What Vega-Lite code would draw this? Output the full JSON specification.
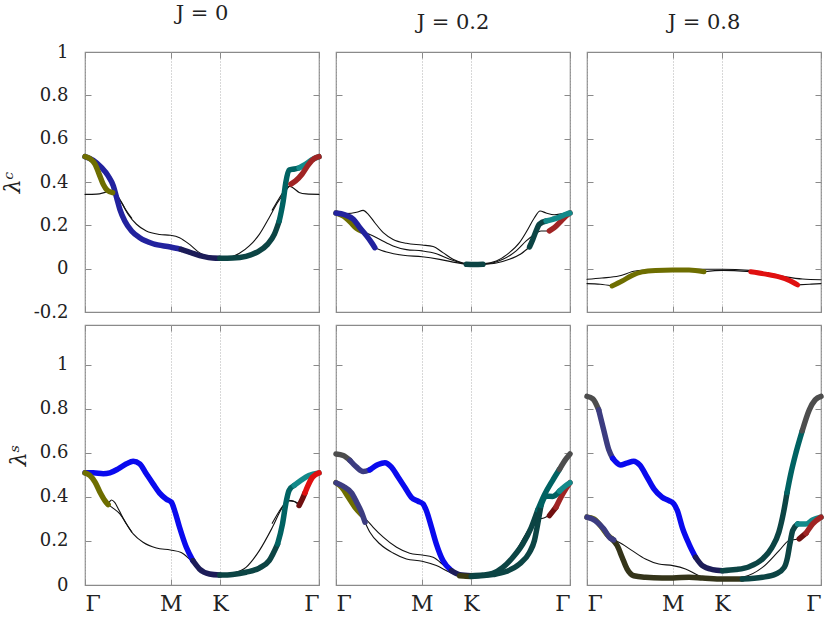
{
"$schema":"https://vega.github.io/schema/vega-lite/v6.json",
"padding":{"left":0,"top":2,"right":2,"bottom":0},
"autosize":{"type":"pad"},
"config":{
 "view":{"stroke":"#8a8a8a","strokeWidth":1.2},
 "axis":{"labelFont":"DejaVu Serif","labelFontSize":18,"labelColor":"#222","tickColor":"#8a8a8a","tickSize":-6,"domain":false,"grid":false,"titleFont":"DejaVu Serif","titleFontSize":22,"titleFontWeight":"normal","titleColor":"#222","titleFontStyle":"italic"},
 "title":{"font":"DejaVu Serif","fontSize":21,"fontWeight":"normal","color":"#222","offset":19,"anchor":"middle"},
 "line":{"interpolate":"monotone","strokeCap":"round","strokeJoin":"round"}
},
"data":{"values":[
{"p":"a","s":"a1a","k":"dblue","x":0,"y":0.517},{"p":"a","s":"a1a","k":"dblue","x":0.035,"y":0.5},{"p":"a","s":"a1a","k":"dblue","x":0.071,"y":0.466},{"p":"a","s":"a1a","k":"dblue","x":0.099,"y":0.428},{"p":"a","s":"a1a","k":"dblue","x":0.121,"y":0.382},{"p":"a","s":"a1a","k":"dblue","x":0.135,"y":0.328},{"p":"a","s":"a1a","k":"dblue","x":0.149,"y":0.274},{"p":"a","s":"a1a","k":"dblue","x":0.17,"y":0.22},{"p":"a","s":"a1a","k":"dblue","x":0.199,"y":0.174},{"p":"a","s":"a1a","k":"dblue","x":0.234,"y":0.143},{"p":"a","s":"a1a","k":"dblue","x":0.291,"y":0.115},{"p":"a","s":"a1a","k":"dblue","x":0.365,"y":0.1},{"p":"a","s":"a1a","k":"dblue","x":0.411,"y":0.089},
{"p":"a","s":"a1b","k":"navy","x":0.411,"y":0.089},{"p":"a","s":"a1b","k":"navy","x":0.461,"y":0.071},{"p":"a","s":"a1b","k":"navy","x":0.504,"y":0.057},{"p":"a","s":"a1b","k":"navy","x":0.546,"y":0.049},{"p":"a","s":"a1b","k":"navy","x":0.576,"y":0.048},
{"p":"a","s":"a1c","k":"dteal","x":0.576,"y":0.048},{"p":"a","s":"a1c","k":"dteal","x":0.631,"y":0.049},{"p":"a","s":"a1c","k":"dteal","x":0.688,"y":0.057},{"p":"a","s":"a1c","k":"dteal","x":0.738,"y":0.078},{"p":"a","s":"a1c","k":"dteal","x":0.78,"y":0.112},{"p":"a","s":"a1c","k":"dteal","x":0.809,"y":0.158},{"p":"a","s":"a1c","k":"dteal","x":0.83,"y":0.22},
{"p":"a","s":"a1d","k":"teal","x":0.83,"y":0.22},{"p":"a","s":"a1d","k":"teal","x":0.847,"y":0.312},{"p":"a","s":"a1d","k":"teal","x":0.858,"y":0.397},{"p":"a","s":"a1d","k":"teal","x":0.872,"y":0.455},{"p":"a","s":"a1d","k":"teal","x":0.895,"y":0.46},{"p":"a","s":"a1d","k":"teal","x":0.915,"y":0.465},
{"p":"a","s":"a1e","k":"lteal","x":0.915,"y":0.465},{"p":"a","s":"a1e","k":"lteal","x":0.94,"y":0.48},{"p":"a","s":"a1e","k":"lteal","x":0.97,"y":0.503},{"p":"a","s":"a1e","k":"lteal","x":1,"y":0.517},
{"p":"a","s":"a2a","k":"olive","x":0,"y":0.517},{"p":"a","s":"a2a","k":"olive","x":0.021,"y":0.508},{"p":"a","s":"a2a","k":"olive","x":0.043,"y":0.482},{"p":"a","s":"a2a","k":"olive","x":0.061,"y":0.435},{"p":"a","s":"a2a","k":"olive","x":0.078,"y":0.389},{"p":"a","s":"a2a","k":"olive","x":0.095,"y":0.362},{"p":"a","s":"a2a","k":"olive","x":0.118,"y":0.351},
{"p":"a","s":"a2b","k":"thin","x":0.118,"y":0.351},{"p":"a","s":"a2b","k":"thin","x":0.135,"y":0.335},{"p":"a","s":"a2b","k":"thin","x":0.156,"y":0.305},{"p":"a","s":"a2b","k":"thin","x":0.184,"y":0.251},{"p":"a","s":"a2b","k":"thin","x":0.22,"y":0.205},{"p":"a","s":"a2b","k":"thin","x":0.262,"y":0.174},{"p":"a","s":"a2b","k":"thin","x":0.319,"y":0.158},{"p":"a","s":"a2b","k":"thin","x":0.365,"y":0.154},{"p":"a","s":"a2b","k":"thin","x":0.404,"y":0.143},{"p":"a","s":"a2b","k":"thin","x":0.447,"y":0.112},{"p":"a","s":"a2b","k":"thin","x":0.489,"y":0.074},{"p":"a","s":"a2b","k":"thin","x":0.532,"y":0.054},{"p":"a","s":"a2b","k":"thin","x":0.576,"y":0.048},{"p":"a","s":"a2b","k":"thin","x":0.617,"y":0.052},{"p":"a","s":"a2b","k":"thin","x":0.66,"y":0.071},{"p":"a","s":"a2b","k":"thin","x":0.702,"y":0.105},{"p":"a","s":"a2b","k":"thin","x":0.745,"y":0.158},{"p":"a","s":"a2b","k":"thin","x":0.787,"y":0.235},{"p":"a","s":"a2b","k":"thin","x":0.823,"y":0.305},{"p":"a","s":"a2b","k":"thin","x":0.848,"y":0.345},{"p":"a","s":"a2b","k":"thin","x":0.866,"y":0.372},{"p":"a","s":"a2b","k":"thin","x":0.88,"y":0.39},
{"p":"a","s":"a2c","k":"red","x":0.88,"y":0.39},{"p":"a","s":"a2c","k":"red","x":0.9,"y":0.405},{"p":"a","s":"a2c","k":"red","x":0.928,"y":0.437},{"p":"a","s":"a2c","k":"red","x":0.957,"y":0.483},{"p":"a","s":"a2c","k":"red","x":0.98,"y":0.508},{"p":"a","s":"a2c","k":"red","x":1,"y":0.517},
{"p":"a","s":"a3","k":"thin","x":0,"y":0.343},{"p":"a","s":"a3","k":"thin","x":0.05,"y":0.344},{"p":"a","s":"a3","k":"thin","x":0.085,"y":0.352},{"p":"a","s":"a3","k":"thin","x":0.11,"y":0.36},{"p":"a","s":"a3","k":"thin","x":0.13,"y":0.35},{"p":"a","s":"a3","k":"thin","x":0.15,"y":0.318},{"p":"a","s":"a3","k":"thin","x":0.175,"y":0.27},{"p":"a","s":"a3","k":"thin","x":0.2,"y":0.232},
{"p":"a","s":"a4","k":"thin","x":0.8,"y":0.27},{"p":"a","s":"a4","k":"thin","x":0.83,"y":0.325},{"p":"a","s":"a4","k":"thin","x":0.855,"y":0.365},{"p":"a","s":"a4","k":"thin","x":0.875,"y":0.38},{"p":"a","s":"a4","k":"thin","x":0.893,"y":0.37},{"p":"a","s":"a4","k":"thin","x":0.915,"y":0.352},{"p":"a","s":"a4","k":"thin","x":0.945,"y":0.345},{"p":"a","s":"a4","k":"thin","x":1,"y":0.343},

{"p":"b","s":"bA","k":"thin","x":0,"y":0.257},{"p":"b","s":"bA","k":"thin","x":0.045,"y":0.254},{"p":"b","s":"bA","k":"thin","x":0.088,"y":0.26},{"p":"b","s":"bA","k":"thin","x":0.116,"y":0.269},{"p":"b","s":"bA","k":"thin","x":0.138,"y":0.251},{"p":"b","s":"bA","k":"thin","x":0.166,"y":0.212},{"p":"b","s":"bA","k":"thin","x":0.202,"y":0.166},{"p":"b","s":"bA","k":"thin","x":0.244,"y":0.135},{"p":"b","s":"bA","k":"thin","x":0.301,"y":0.117},{"p":"b","s":"bA","k":"thin","x":0.368,"y":0.109},{"p":"b","s":"bA","k":"thin","x":0.415,"y":0.102},{"p":"b","s":"bA","k":"thin","x":0.457,"y":0.074},{"p":"b","s":"bA","k":"thin","x":0.5,"y":0.043},{"p":"b","s":"bA","k":"thin","x":0.543,"y":0.026},{"p":"b","s":"bA","k":"thin","x":0.578,"y":0.02},{"p":"b","s":"bA","k":"thin","x":0.628,"y":0.022},{"p":"b","s":"bA","k":"thin","x":0.685,"y":0.035},{"p":"b","s":"bA","k":"thin","x":0.741,"y":0.074},{"p":"b","s":"bA","k":"thin","x":0.784,"y":0.12},{"p":"b","s":"bA","k":"thin","x":0.82,"y":0.182},{"p":"b","s":"bA","k":"thin","x":0.848,"y":0.235},{"p":"b","s":"bA","k":"thin","x":0.872,"y":0.266},{"p":"b","s":"bA","k":"thin","x":0.898,"y":0.257},{"p":"b","s":"bA","k":"thin","x":0.933,"y":0.249},{"p":"b","s":"bA","k":"thin","x":0.969,"y":0.254},{"p":"b","s":"bA","k":"thin","x":1,"y":0.257},
{"p":"b","s":"bB1","k":"olive","x":0,"y":0.257},{"p":"b","s":"bB1","k":"olive","x":0.031,"y":0.243},{"p":"b","s":"bB1","k":"olive","x":0.06,"y":0.217},{"p":"b","s":"bB1","k":"olive","x":0.088,"y":0.186},{"p":"b","s":"bB1","k":"olive","x":0.109,"y":0.174},
{"p":"b","s":"bB2","k":"thin","x":0.109,"y":0.174},{"p":"b","s":"bB2","k":"thin","x":0.145,"y":0.158},{"p":"b","s":"bB2","k":"thin","x":0.188,"y":0.135},{"p":"b","s":"bB2","k":"thin","x":0.244,"y":0.105},{"p":"b","s":"bB2","k":"thin","x":0.301,"y":0.088},{"p":"b","s":"bB2","k":"thin","x":0.368,"y":0.082},{"p":"b","s":"bB2","k":"thin","x":0.429,"y":0.069},{"p":"b","s":"bB2","k":"thin","x":0.486,"y":0.043},{"p":"b","s":"bB2","k":"thin","x":0.536,"y":0.026},{"p":"b","s":"bB2","k":"thin","x":0.578,"y":0.02},{"p":"b","s":"bB2","k":"thin","x":0.642,"y":0.022},{"p":"b","s":"bB2","k":"thin","x":0.713,"y":0.043},{"p":"b","s":"bB2","k":"thin","x":0.77,"y":0.082},{"p":"b","s":"bB2","k":"thin","x":0.813,"y":0.128},{"p":"b","s":"bB2","k":"thin","x":0.848,"y":0.158},{"p":"b","s":"bB2","k":"thin","x":0.876,"y":0.174},{"p":"b","s":"bB2","k":"thin","x":0.912,"y":0.174},
{"p":"b","s":"bB3","k":"red","x":0.912,"y":0.174},{"p":"b","s":"bB3","k":"red","x":0.933,"y":0.189},{"p":"b","s":"bB3","k":"red","x":0.962,"y":0.22},{"p":"b","s":"bB3","k":"red","x":0.983,"y":0.243},{"p":"b","s":"bB3","k":"red","x":1,"y":0.257},
{"p":"b","s":"bC1","k":"dblue","x":0,"y":0.257},{"p":"b","s":"bC1","k":"dblue","x":0.038,"y":0.249},{"p":"b","s":"bC1","k":"dblue","x":0.074,"y":0.228},{"p":"b","s":"bC1","k":"dblue","x":0.102,"y":0.189},{"p":"b","s":"bC1","k":"dblue","x":0.131,"y":0.151},{"p":"b","s":"bC1","k":"dblue","x":0.152,"y":0.12},{"p":"b","s":"bC1","k":"dblue","x":0.166,"y":0.097},
{"p":"b","s":"bC2","k":"thin","x":0.166,"y":0.097},{"p":"b","s":"bC2","k":"thin","x":0.216,"y":0.077},{"p":"b","s":"bC2","k":"thin","x":0.287,"y":0.062},{"p":"b","s":"bC2","k":"thin","x":0.368,"y":0.055},{"p":"b","s":"bC2","k":"thin","x":0.443,"y":0.043},{"p":"b","s":"bC2","k":"thin","x":0.514,"y":0.028},{"p":"b","s":"bC2","k":"thin","x":0.557,"y":0.02},
{"p":"b","s":"bC3","k":"dteal","x":0.557,"y":0.02},{"p":"b","s":"bC3","k":"dteal","x":0.592,"y":0.019},{"p":"b","s":"bC3","k":"dteal","x":0.628,"y":0.02},
{"p":"b","s":"bC4","k":"thin","x":0.628,"y":0.02},{"p":"b","s":"bC4","k":"thin","x":0.685,"y":0.026},{"p":"b","s":"bC4","k":"thin","x":0.741,"y":0.043},{"p":"b","s":"bC4","k":"thin","x":0.791,"y":0.069},{"p":"b","s":"bC4","k":"thin","x":0.827,"y":0.1},
{"p":"b","s":"bC5","k":"dteal","x":0.827,"y":0.1},{"p":"b","s":"bC5","k":"dteal","x":0.841,"y":0.135},{"p":"b","s":"bC5","k":"dteal","x":0.855,"y":0.174},{"p":"b","s":"bC5","k":"dteal","x":0.869,"y":0.205},{"p":"b","s":"bC5","k":"dteal","x":0.898,"y":0.22},
{"p":"b","s":"bC6","k":"lteal","x":0.898,"y":0.22},{"p":"b","s":"bC6","k":"lteal","x":0.926,"y":0.228},{"p":"b","s":"bC6","k":"lteal","x":0.955,"y":0.238},{"p":"b","s":"bC6","k":"lteal","x":0.983,"y":0.251},{"p":"b","s":"bC6","k":"lteal","x":1,"y":0.257},

{"p":"c","s":"cA","k":"thin","x":0,"y":-0.049},{"p":"c","s":"cA","k":"thin","x":0.064,"y":-0.043},{"p":"c","s":"cA","k":"thin","x":0.136,"y":-0.034},{"p":"c","s":"cA","k":"thin","x":0.207,"y":-0.011},{"p":"c","s":"cA","k":"thin","x":0.293,"y":-0.005},{"p":"c","s":"cA","k":"thin","x":0.367,"y":-0.003},{"p":"c","s":"cA","k":"thin","x":0.493,"y":-0.003},{"p":"c","s":"cA","k":"thin","x":0.579,"y":-0.003},{"p":"c","s":"cA","k":"thin","x":0.693,"y":-0.008},{"p":"c","s":"cA","k":"thin","x":0.779,"y":-0.023},{"p":"c","s":"cA","k":"thin","x":0.85,"y":-0.038},{"p":"c","s":"cA","k":"thin","x":0.921,"y":-0.048},{"p":"c","s":"cA","k":"thin","x":1,"y":-0.051},
{"p":"c","s":"cB1","k":"thin","x":0,"y":-0.069},{"p":"c","s":"cB1","k":"thin","x":0.057,"y":-0.072},{"p":"c","s":"cB1","k":"thin","x":0.107,"y":-0.08},
{"p":"c","s":"cB2","k":"olive","x":0.107,"y":-0.08},{"p":"c","s":"cB2","k":"olive","x":0.15,"y":-0.057},{"p":"c","s":"cB2","k":"olive","x":0.193,"y":-0.031},{"p":"c","s":"cB2","k":"olive","x":0.236,"y":-0.015},{"p":"c","s":"cB2","k":"olive","x":0.293,"y":-0.008},{"p":"c","s":"cB2","k":"olive","x":0.367,"y":-0.006},{"p":"c","s":"cB2","k":"olive","x":0.436,"y":-0.006},{"p":"c","s":"cB2","k":"olive","x":0.5,"y":-0.014},
{"p":"c","s":"cB3","k":"thin","x":0.5,"y":-0.014},{"p":"c","s":"cB3","k":"thin","x":0.579,"y":-0.008},{"p":"c","s":"cB3","k":"thin","x":0.7,"y":-0.014},
{"p":"c","s":"cB4","k":"bred","x":0.7,"y":-0.014},{"p":"c","s":"cB4","k":"bred","x":0.764,"y":-0.025},{"p":"c","s":"cB4","k":"bred","x":0.821,"y":-0.038},{"p":"c","s":"cB4","k":"bred","x":0.864,"y":-0.054},{"p":"c","s":"cB4","k":"bred","x":0.9,"y":-0.075},
{"p":"c","s":"cB5","k":"thin","x":0.9,"y":-0.075},{"p":"c","s":"cB5","k":"thin","x":0.95,"y":-0.072},{"p":"c","s":"cB5","k":"thin","x":1,"y":-0.069},

{"p":"d","s":"d1a","k":"blue","x":0,"y":0.509},{"p":"d","s":"d1a","k":"blue","x":0.035,"y":0.509},{"p":"d","s":"d1a","k":"blue","x":0.078,"y":0.505},{"p":"d","s":"d1a","k":"blue","x":0.106,"y":0.509},{"p":"d","s":"d1a","k":"blue","x":0.142,"y":0.527},{"p":"d","s":"d1a","k":"blue","x":0.177,"y":0.55},{"p":"d","s":"d1a","k":"blue","x":0.206,"y":0.562},{"p":"d","s":"d1a","k":"blue","x":0.234,"y":0.55},{"p":"d","s":"d1a","k":"blue","x":0.262,"y":0.505},{"p":"d","s":"d1a","k":"blue","x":0.291,"y":0.459},{"p":"d","s":"d1a","k":"blue","x":0.319,"y":0.417},{"p":"d","s":"d1a","k":"blue","x":0.348,"y":0.389},{"p":"d","s":"d1a","k":"blue","x":0.369,"y":0.376},{"p":"d","s":"d1a","k":"blue","x":0.383,"y":0.338},{"p":"d","s":"d1a","k":"blue","x":0.404,"y":0.262},{"p":"d","s":"d1a","k":"blue","x":0.433,"y":0.171},{"p":"d","s":"d1a","k":"blue","x":0.461,"y":0.111},
{"p":"d","s":"d1b","k":"navy","x":0.461,"y":0.111},{"p":"d","s":"d1b","k":"navy","x":0.489,"y":0.073},{"p":"d","s":"d1b","k":"navy","x":0.532,"y":0.05},{"p":"d","s":"d1b","k":"navy","x":0.576,"y":0.045},
{"p":"d","s":"d1c","k":"dteal","x":0.576,"y":0.045},{"p":"d","s":"d1c","k":"dteal","x":0.631,"y":0.048},{"p":"d","s":"d1c","k":"dteal","x":0.688,"y":0.058},{"p":"d","s":"d1c","k":"dteal","x":0.745,"y":0.077},{"p":"d","s":"d1c","k":"dteal","x":0.787,"y":0.111},{"p":"d","s":"d1c","k":"dteal","x":0.823,"y":0.186},
{"p":"d","s":"d1d","k":"teal","x":0.823,"y":0.186},{"p":"d","s":"d1d","k":"teal","x":0.844,"y":0.277},{"p":"d","s":"d1d","k":"teal","x":0.858,"y":0.368},{"p":"d","s":"d1d","k":"teal","x":0.872,"y":0.429},{"p":"d","s":"d1d","k":"teal","x":0.894,"y":0.452},
{"p":"d","s":"d1e","k":"lteal","x":0.894,"y":0.452},{"p":"d","s":"d1e","k":"lteal","x":0.922,"y":0.474},{"p":"d","s":"d1e","k":"lteal","x":0.957,"y":0.497},{"p":"d","s":"d1e","k":"lteal","x":1,"y":0.509},
{"p":"d","s":"d2a","k":"olive","x":0,"y":0.509},{"p":"d","s":"d2a","k":"olive","x":0.021,"y":0.497},{"p":"d","s":"d2a","k":"olive","x":0.043,"y":0.467},{"p":"d","s":"d2a","k":"olive","x":0.064,"y":0.421},{"p":"d","s":"d2a","k":"olive","x":0.085,"y":0.383},{"p":"d","s":"d2a","k":"olive","x":0.099,"y":0.365},
{"p":"d","s":"d2b","k":"thin","x":0.099,"y":0.365},{"p":"d","s":"d2b","k":"thin","x":0.121,"y":0.348},{"p":"d","s":"d2b","k":"thin","x":0.149,"y":0.323},{"p":"d","s":"d2b","k":"thin","x":0.177,"y":0.277},{"p":"d","s":"d2b","k":"thin","x":0.206,"y":0.232},{"p":"d","s":"d2b","k":"thin","x":0.248,"y":0.194},{"p":"d","s":"d2b","k":"thin","x":0.305,"y":0.168},{"p":"d","s":"d2b","k":"thin","x":0.365,"y":0.159},{"p":"d","s":"d2b","k":"thin","x":0.411,"y":0.148},{"p":"d","s":"d2b","k":"thin","x":0.454,"y":0.111},{"p":"d","s":"d2b","k":"thin","x":0.504,"y":0.068},{"p":"d","s":"d2b","k":"thin","x":0.546,"y":0.05},{"p":"d","s":"d2b","k":"thin","x":0.576,"y":0.045},{"p":"d","s":"d2b","k":"thin","x":0.631,"y":0.053},{"p":"d","s":"d2b","k":"thin","x":0.688,"y":0.08},{"p":"d","s":"d2b","k":"thin","x":0.745,"y":0.156},{"p":"d","s":"d2b","k":"thin","x":0.801,"y":0.262},{"p":"d","s":"d2b","k":"thin","x":0.844,"y":0.353},{"p":"d","s":"d2b","k":"thin","x":0.872,"y":0.383},{"p":"d","s":"d2b","k":"thin","x":0.894,"y":0.379},{"p":"d","s":"d2b","k":"thin","x":0.915,"y":0.361},
{"p":"d","s":"d2c","k":"dred","x":0.915,"y":0.361},{"p":"d","s":"d2c","k":"dred","x":0.929,"y":0.391},{"p":"d","s":"d2c","k":"dred","x":0.94,"y":0.418},
{"p":"d","s":"d2d","k":"bred","x":0.94,"y":0.418},{"p":"d","s":"d2d","k":"bred","x":0.95,"y":0.444},{"p":"d","s":"d2d","k":"bred","x":0.972,"y":0.489},{"p":"d","s":"d2d","k":"bred","x":1,"y":0.509},
{"p":"d","s":"d3","k":"thin","x":0.08,"y":0.4},{"p":"d","s":"d3","k":"thin","x":0.1,"y":0.373},{"p":"d","s":"d3","k":"thin","x":0.113,"y":0.386},{"p":"d","s":"d3","k":"thin","x":0.127,"y":0.375},{"p":"d","s":"d3","k":"thin","x":0.145,"y":0.34},{"p":"d","s":"d3","k":"thin","x":0.17,"y":0.29},{"p":"d","s":"d3","k":"thin","x":0.2,"y":0.24},
{"p":"d","s":"d4","k":"thin","x":0.8,"y":0.28},{"p":"d","s":"d4","k":"thin","x":0.83,"y":0.335},{"p":"d","s":"d4","k":"thin","x":0.855,"y":0.37},{"p":"d","s":"d4","k":"thin","x":0.875,"y":0.383},{"p":"d","s":"d4","k":"thin","x":0.893,"y":0.38},{"p":"d","s":"d4","k":"thin","x":0.91,"y":0.372},

{"p":"e","s":"e1a","k":"gray","x":0,"y":0.595},{"p":"e","s":"e1a","k":"gray","x":0.031,"y":0.588},{"p":"e","s":"e1a","k":"gray","x":0.06,"y":0.565},
{"p":"e","s":"e1b","k":"slate","x":0.06,"y":0.565},{"p":"e","s":"e1b","k":"slate","x":0.088,"y":0.535},{"p":"e","s":"e1b","k":"slate","x":0.116,"y":0.515},{"p":"e","s":"e1b","k":"slate","x":0.145,"y":0.523},
{"p":"e","s":"e1c","k":"blue","x":0.145,"y":0.523},{"p":"e","s":"e1c","k":"blue","x":0.18,"y":0.547},{"p":"e","s":"e1c","k":"blue","x":0.209,"y":0.555},{"p":"e","s":"e1c","k":"blue","x":0.237,"y":0.535},{"p":"e","s":"e1c","k":"blue","x":0.266,"y":0.489},{"p":"e","s":"e1c","k":"blue","x":0.294,"y":0.444},{"p":"e","s":"e1c","k":"blue","x":0.322,"y":0.398},{"p":"e","s":"e1c","k":"blue","x":0.351,"y":0.38},{"p":"e","s":"e1c","k":"blue","x":0.372,"y":0.368},{"p":"e","s":"e1c","k":"blue","x":0.386,"y":0.338},{"p":"e","s":"e1c","k":"blue","x":0.408,"y":0.262},{"p":"e","s":"e1c","k":"blue","x":0.429,"y":0.186},{"p":"e","s":"e1c","k":"blue","x":0.457,"y":0.111},{"p":"e","s":"e1c","k":"blue","x":0.493,"y":0.065},
{"p":"e","s":"e1d","k":"navy","x":0.493,"y":0.065},{"p":"e","s":"e1d","k":"navy","x":0.528,"y":0.047},{"p":"e","s":"e1d","k":"navy","x":0.578,"y":0.042},
{"p":"e","s":"e1e","k":"dteal","x":0.578,"y":0.042},{"p":"e","s":"e1e","k":"dteal","x":0.628,"y":0.045},{"p":"e","s":"e1e","k":"dteal","x":0.67,"y":0.053},{"p":"e","s":"e1e","k":"dteal","x":0.713,"y":0.08},{"p":"e","s":"e1e","k":"dteal","x":0.756,"y":0.126},{"p":"e","s":"e1e","k":"dteal","x":0.798,"y":0.186},{"p":"e","s":"e1e","k":"dteal","x":0.834,"y":0.26},{"p":"e","s":"e1e","k":"dteal","x":0.862,"y":0.34},
{"p":"e","s":"e1f","k":"teal","x":0.862,"y":0.34},{"p":"e","s":"e1f","k":"teal","x":0.891,"y":0.41},{"p":"e","s":"e1f","k":"teal","x":0.926,"y":0.475},{"p":"e","s":"e1f","k":"teal","x":0.955,"y":0.525},
{"p":"e","s":"e1g","k":"gray","x":0.955,"y":0.525},{"p":"e","s":"e1g","k":"gray","x":0.983,"y":0.572},{"p":"e","s":"e1g","k":"gray","x":1,"y":0.595},
{"p":"e","s":"e2a","k":"olive","x":0,"y":0.464},{"p":"e","s":"e2a","k":"olive","x":0.024,"y":0.444},{"p":"e","s":"e2a","k":"olive","x":0.053,"y":0.398},{"p":"e","s":"e2a","k":"olive","x":0.081,"y":0.353},{"p":"e","s":"e2a","k":"olive","x":0.109,"y":0.32},
{"p":"e","s":"e2b","k":"thin","x":0.109,"y":0.32},{"p":"e","s":"e2b","k":"thin","x":0.131,"y":0.295},{"p":"e","s":"e2b","k":"thin","x":0.159,"y":0.262},{"p":"e","s":"e2b","k":"thin","x":0.202,"y":0.217},{"p":"e","s":"e2b","k":"thin","x":0.259,"y":0.171},{"p":"e","s":"e2b","k":"thin","x":0.315,"y":0.144},{"p":"e","s":"e2b","k":"thin","x":0.368,"y":0.136},{"p":"e","s":"e2b","k":"thin","x":0.415,"y":0.126},{"p":"e","s":"e2b","k":"thin","x":0.472,"y":0.08},{"p":"e","s":"e2b","k":"thin","x":0.528,"y":0.047},{"p":"e","s":"e2b","k":"thin","x":0.578,"y":0.042},{"p":"e","s":"e2b","k":"thin","x":0.642,"y":0.047},{"p":"e","s":"e2b","k":"thin","x":0.713,"y":0.08},{"p":"e","s":"e2b","k":"thin","x":0.77,"y":0.156},{"p":"e","s":"e2b","k":"thin","x":0.82,"y":0.247},{"p":"e","s":"e2b","k":"thin","x":0.855,"y":0.295},{"p":"e","s":"e2b","k":"thin","x":0.891,"y":0.305},{"p":"e","s":"e2b","k":"thin","x":0.912,"y":0.315},
{"p":"e","s":"e2c","k":"dred","x":0.912,"y":0.315},{"p":"e","s":"e2c","k":"dred","x":0.94,"y":0.353},
{"p":"e","s":"e2d","k":"red","x":0.94,"y":0.353},{"p":"e","s":"e2d","k":"red","x":0.969,"y":0.414},{"p":"e","s":"e2d","k":"red","x":1,"y":0.464},
{"p":"e","s":"e3a","k":"slate","x":0,"y":0.464},{"p":"e","s":"e3a","k":"slate","x":0.031,"y":0.448},{"p":"e","s":"e3a","k":"slate","x":0.067,"y":0.417},{"p":"e","s":"e3a","k":"slate","x":0.088,"y":0.376},{"p":"e","s":"e3a","k":"slate","x":0.109,"y":0.33},{"p":"e","s":"e3a","k":"slate","x":0.124,"y":0.285},
{"p":"e","s":"e3b","k":"thin","x":0.124,"y":0.285},{"p":"e","s":"e3b","k":"thin","x":0.145,"y":0.239},{"p":"e","s":"e3b","k":"thin","x":0.188,"y":0.186},{"p":"e","s":"e3b","k":"thin","x":0.244,"y":0.145},{"p":"e","s":"e3b","k":"thin","x":0.301,"y":0.118},{"p":"e","s":"e3b","k":"thin","x":0.368,"y":0.108},{"p":"e","s":"e3b","k":"thin","x":0.429,"y":0.088},{"p":"e","s":"e3b","k":"thin","x":0.486,"y":0.058},{"p":"e","s":"e3b","k":"thin","x":0.528,"y":0.042},
{"p":"e","s":"e3c","k":"dolive","x":0.528,"y":0.042},{"p":"e","s":"e3c","k":"dolive","x":0.555,"y":0.04},{"p":"e","s":"e3c","k":"dolive","x":0.578,"y":0.039},
{"p":"e","s":"e3d","k":"dteal","x":0.578,"y":0.039},{"p":"e","s":"e3d","k":"dteal","x":0.67,"y":0.047},{"p":"e","s":"e3d","k":"dteal","x":0.727,"y":0.061},{"p":"e","s":"e3d","k":"dteal","x":0.784,"y":0.095},{"p":"e","s":"e3d","k":"dteal","x":0.827,"y":0.148},{"p":"e","s":"e3d","k":"dteal","x":0.848,"y":0.202},{"p":"e","s":"e3d","k":"dteal","x":0.862,"y":0.277},{"p":"e","s":"e3d","k":"dteal","x":0.876,"y":0.361},
{"p":"e","s":"e3e","k":"teal","x":0.876,"y":0.361},{"p":"e","s":"e3e","k":"teal","x":0.898,"y":0.403},{"p":"e","s":"e3e","k":"teal","x":0.926,"y":0.402},{"p":"e","s":"e3e","k":"teal","x":0.955,"y":0.426},
{"p":"e","s":"e3f","k":"lteal","x":0.955,"y":0.426},{"p":"e","s":"e3f","k":"lteal","x":0.983,"y":0.452},{"p":"e","s":"e3f","k":"lteal","x":1,"y":0.464},

{"p":"f","s":"f1a","k":"gray","x":0,"y":0.856},{"p":"f","s":"f1a","k":"gray","x":0.025,"y":0.845},{"p":"f","s":"f1a","k":"gray","x":0.05,"y":0.795},
{"p":"f","s":"f1b","k":"slate","x":0.05,"y":0.795},{"p":"f","s":"f1b","k":"slate","x":0.071,"y":0.705},{"p":"f","s":"f1b","k":"slate","x":0.093,"y":0.614},{"p":"f","s":"f1b","k":"slate","x":0.11,"y":0.575},
{"p":"f","s":"f1c","k":"blue","x":0.11,"y":0.575},{"p":"f","s":"f1c","k":"blue","x":0.122,"y":0.56},{"p":"f","s":"f1c","k":"blue","x":0.143,"y":0.545},{"p":"f","s":"f1c","k":"blue","x":0.17,"y":0.553},{"p":"f","s":"f1c","k":"blue","x":0.2,"y":0.562},{"p":"f","s":"f1c","k":"blue","x":0.225,"y":0.545},{"p":"f","s":"f1c","k":"blue","x":0.257,"y":0.489},{"p":"f","s":"f1c","k":"blue","x":0.286,"y":0.436},{"p":"f","s":"f1c","k":"blue","x":0.321,"y":0.398},{"p":"f","s":"f1c","k":"blue","x":0.35,"y":0.383},{"p":"f","s":"f1c","k":"blue","x":0.371,"y":0.368},{"p":"f","s":"f1c","k":"blue","x":0.386,"y":0.338},{"p":"f","s":"f1c","k":"blue","x":0.407,"y":0.262},{"p":"f","s":"f1c","k":"blue","x":0.436,"y":0.186},{"p":"f","s":"f1c","k":"blue","x":0.464,"y":0.126},
{"p":"f","s":"f1d","k":"navy","x":0.464,"y":0.126},{"p":"f","s":"f1d","k":"navy","x":0.493,"y":0.088},{"p":"f","s":"f1d","k":"navy","x":0.536,"y":0.07},{"p":"f","s":"f1d","k":"navy","x":0.579,"y":0.065},
{"p":"f","s":"f1e","k":"dteal","x":0.579,"y":0.065},{"p":"f","s":"f1e","k":"dteal","x":0.636,"y":0.07},{"p":"f","s":"f1e","k":"dteal","x":0.693,"y":0.083},{"p":"f","s":"f1e","k":"dteal","x":0.75,"y":0.118},{"p":"f","s":"f1e","k":"dteal","x":0.79,"y":0.17},{"p":"f","s":"f1e","k":"dteal","x":0.82,"y":0.24},{"p":"f","s":"f1e","k":"dteal","x":0.84,"y":0.33},{"p":"f","s":"f1e","k":"dteal","x":0.855,"y":0.42},
{"p":"f","s":"f1f","k":"teal","x":0.855,"y":0.42},{"p":"f","s":"f1f","k":"teal","x":0.87,"y":0.5},{"p":"f","s":"f1f","k":"teal","x":0.893,"y":0.6},{"p":"f","s":"f1f","k":"teal","x":0.92,"y":0.7},
{"p":"f","s":"f1g","k":"gray","x":0.92,"y":0.7},{"p":"f","s":"f1g","k":"gray","x":0.95,"y":0.795},{"p":"f","s":"f1g","k":"gray","x":0.975,"y":0.84},{"p":"f","s":"f1g","k":"gray","x":1,"y":0.856},
{"p":"f","s":"f2a","k":"olive","x":0,"y":0.308},{"p":"f","s":"f2a","k":"olive","x":0.029,"y":0.3},{"p":"f","s":"f2a","k":"olive","x":0.057,"y":0.27},{"p":"f","s":"f2a","k":"olive","x":0.086,"y":0.229},{"p":"f","s":"f2a","k":"olive","x":0.107,"y":0.209},
{"p":"f","s":"f2b","k":"dark","x":0.107,"y":0.209},{"p":"f","s":"f2b","k":"dark","x":0.129,"y":0.179},{"p":"f","s":"f2b","k":"dark","x":0.15,"y":0.126},{"p":"f","s":"f2b","k":"dark","x":0.171,"y":0.073},{"p":"f","s":"f2b","k":"dark","x":0.2,"y":0.042},{"p":"f","s":"f2b","k":"dark","x":0.25,"y":0.035},{"p":"f","s":"f2b","k":"dark","x":0.321,"y":0.032},{"p":"f","s":"f2b","k":"dark","x":0.367,"y":0.032},{"p":"f","s":"f2b","k":"dark","x":0.436,"y":0.035},{"p":"f","s":"f2b","k":"dark","x":0.493,"y":0.032},{"p":"f","s":"f2b","k":"dark","x":0.579,"y":0.027},{"p":"f","s":"f2b","k":"dark","x":0.664,"y":0.027},
{"p":"f","s":"f2c","k":"dteal","x":0.664,"y":0.027},{"p":"f","s":"f2c","k":"dteal","x":0.75,"y":0.035},{"p":"f","s":"f2c","k":"dteal","x":0.807,"y":0.05},{"p":"f","s":"f2c","k":"dteal","x":0.843,"y":0.08},{"p":"f","s":"f2c","k":"dteal","x":0.857,"y":0.126},{"p":"f","s":"f2c","k":"dteal","x":0.867,"y":0.186},{"p":"f","s":"f2c","k":"dteal","x":0.879,"y":0.247},{"p":"f","s":"f2c","k":"dteal","x":0.9,"y":0.277},
{"p":"f","s":"f2d","k":"lteal","x":0.9,"y":0.277},{"p":"f","s":"f2d","k":"lteal","x":0.936,"y":0.277},{"p":"f","s":"f2d","k":"lteal","x":0.964,"y":0.295},{"p":"f","s":"f2d","k":"lteal","x":1,"y":0.308},
{"p":"f","s":"f3a","k":"slate","x":0,"y":0.308},{"p":"f","s":"f3a","k":"slate","x":0.036,"y":0.292},{"p":"f","s":"f3a","k":"slate","x":0.071,"y":0.255},{"p":"f","s":"f3a","k":"slate","x":0.1,"y":0.212},{"p":"f","s":"f3a","k":"slate","x":0.114,"y":0.205},
{"p":"f","s":"f3b","k":"thin","x":0.114,"y":0.205},{"p":"f","s":"f3b","k":"thin","x":0.15,"y":0.186},{"p":"f","s":"f3b","k":"thin","x":0.193,"y":0.156},{"p":"f","s":"f3b","k":"thin","x":0.25,"y":0.118},{"p":"f","s":"f3b","k":"thin","x":0.307,"y":0.095},{"p":"f","s":"f3b","k":"thin","x":0.367,"y":0.088},{"p":"f","s":"f3b","k":"thin","x":0.421,"y":0.073},{"p":"f","s":"f3b","k":"thin","x":0.479,"y":0.042},{"p":"f","s":"f3b","k":"thin","x":0.536,"y":0.027},{"p":"f","s":"f3b","k":"thin","x":0.579,"y":0.026},{"p":"f","s":"f3b","k":"thin","x":0.664,"y":0.035},{"p":"f","s":"f3b","k":"thin","x":0.75,"y":0.08},{"p":"f","s":"f3b","k":"thin","x":0.821,"y":0.156},{"p":"f","s":"f3b","k":"thin","x":0.864,"y":0.202},{"p":"f","s":"f3b","k":"thin","x":0.907,"y":0.209},
{"p":"f","s":"f3c","k":"dred","x":0.907,"y":0.209},{"p":"f","s":"f3c","k":"dred","x":0.936,"y":0.235},
{"p":"f","s":"f3d","k":"red","x":0.936,"y":0.235},{"p":"f","s":"f3d","k":"red","x":0.964,"y":0.277},{"p":"f","s":"f3d","k":"red","x":1,"y":0.308}
]},
"columns":3,
"spacing":{"row":13,"column":17},
"bounds":"flush",
"concat":[
{"width":234,"height":260,"title":"J = 0","transform":[{"filter":"datum.p == 'a'"}],
 "layer":[
  {"transform":[{"filter":"datum.k == 'thin'"}],"mark":{"type":"line","strokeWidth":1.1},
   "encoding":{"x":{"field":"x","type":"quantitative","scale":{"domain":[0,1],"nice":false,"zero":false},"axis":{"orient":"bottom","values":[0,0.366,0.577,1],"grid":true,"gridColor":"#b0b0b0","gridDash":[1,2],"labels":false,"title":null}},
   "y":{"field":"y","type":"quantitative","scale":{"domain":[-0.2,1],"nice":false,"zero":false},"axis":{"orient":"left","values":[-0.2,0,0.2,0.4,0.6,0.8,1],"format":".1~f","labelExpr":"replace(datum.label,'−','-')","labelPadding":23,"title":"λᶜ","titlePadding":9}},
   "detail":{"field":"s"},"color":{"field":"k","type":"nominal","scale":{"domain":["thin","dark","olive","dolive","slate","gray","blue","dblue","navy","dteal","teal","lteal","red","dred","bred"],"range":["#111111","#34341a","#6e6e00","#3a3a10","#3c3c80","#4d4d4d","#0a0aee","#22229e","#1c1c58","#0c4444","#006262","#138a8a","#a02424","#701010","#e01010"]},"legend":null}}},
  {"transform":[{"filter":"datum.k != 'thin'"}],"mark":{"type":"line","strokeWidth":5.5},
   "encoding":{"x":{"field":"x","type":"quantitative","axis":{"orient":"top","values":[0,0.366,0.577,1],"labels":false,"title":null}},
   "y":{"field":"y","type":"quantitative","axis":{"orient":"right","values":[-0.2,0,0.2,0.4,0.6,0.8,1],"labels":false,"title":null}},
   "detail":{"field":"s"},"color":{"field":"k","type":"nominal","legend":null}}}
 ],"resolve":{"axis":{"x":"independent","y":"independent"}}},
{"width":234,"height":260,"title":"J = 0.2","transform":[{"filter":"datum.p == 'b'"}],
 "layer":[
  {"transform":[{"filter":"datum.k == 'thin'"}],"mark":{"type":"line","strokeWidth":1.1},
   "encoding":{"x":{"field":"x","type":"quantitative","scale":{"domain":[0,1],"nice":false,"zero":false},"axis":{"orient":"bottom","values":[0,0.366,0.577,1],"grid":true,"gridColor":"#b0b0b0","gridDash":[1,2],"labels":false,"title":null}},
   "y":{"field":"y","type":"quantitative","scale":{"domain":[-0.2,1],"nice":false,"zero":false},"axis":{"orient":"left","values":[-0.2,0,0.2,0.4,0.6,0.8,1],"labels":false,"title":null}},
   "detail":{"field":"s"},"color":{"field":"k","type":"nominal","scale":{"domain":["thin","dark","olive","dolive","slate","gray","blue","dblue","navy","dteal","teal","lteal","red","dred","bred"],"range":["#111111","#34341a","#6e6e00","#3a3a10","#3c3c80","#4d4d4d","#0a0aee","#22229e","#1c1c58","#0c4444","#006262","#138a8a","#a02424","#701010","#e01010"]},"legend":null}}},
  {"transform":[{"filter":"datum.k != 'thin'"}],"mark":{"type":"line","strokeWidth":5.5},
   "encoding":{"x":{"field":"x","type":"quantitative","axis":{"orient":"top","values":[0,0.366,0.577,1],"labels":false,"title":null}},
   "y":{"field":"y","type":"quantitative","axis":{"orient":"right","values":[-0.2,0,0.2,0.4,0.6,0.8,1],"labels":false,"title":null}},
   "detail":{"field":"s"},"color":{"field":"k","type":"nominal","legend":null}}}
 ],"resolve":{"axis":{"x":"independent","y":"independent"}}},
{"width":234,"height":260,"title":"J = 0.8","transform":[{"filter":"datum.p == 'c'"}],
 "layer":[
  {"transform":[{"filter":"datum.k == 'thin'"}],"mark":{"type":"line","strokeWidth":1.1},
   "encoding":{"x":{"field":"x","type":"quantitative","scale":{"domain":[0,1],"nice":false,"zero":false},"axis":{"orient":"bottom","values":[0,0.366,0.577,1],"grid":true,"gridColor":"#b0b0b0","gridDash":[1,2],"labels":false,"title":null}},
   "y":{"field":"y","type":"quantitative","scale":{"domain":[-0.2,1],"nice":false,"zero":false},"axis":{"orient":"left","values":[-0.2,0,0.2,0.4,0.6,0.8,1],"labels":false,"title":null}},
   "detail":{"field":"s"},"color":{"field":"k","type":"nominal","scale":{"domain":["thin","dark","olive","dolive","slate","gray","blue","dblue","navy","dteal","teal","lteal","red","dred","bred"],"range":["#111111","#34341a","#6e6e00","#3a3a10","#3c3c80","#4d4d4d","#0a0aee","#22229e","#1c1c58","#0c4444","#006262","#138a8a","#a02424","#701010","#e01010"]},"legend":null}}},
  {"transform":[{"filter":"datum.k != 'thin'"}],"mark":{"type":"line","strokeWidth":5},
   "encoding":{"x":{"field":"x","type":"quantitative","axis":{"orient":"top","values":[0,0.366,0.577,1],"labels":false,"title":null}},
   "y":{"field":"y","type":"quantitative","axis":{"orient":"right","values":[-0.2,0,0.2,0.4,0.6,0.8,1],"labels":false,"title":null}},
   "detail":{"field":"s"},"color":{"field":"k","type":"nominal","legend":null}}}
 ],"resolve":{"axis":{"x":"independent","y":"independent"}}},
{"width":234,"height":260,"transform":[{"filter":"datum.p == 'd'"}],
 "layer":[
  {"transform":[{"filter":"datum.k == 'thin'"}],"mark":{"type":"line","strokeWidth":1.1},
   "encoding":{"x":{"field":"x","type":"quantitative","scale":{"domain":[0,1],"nice":false,"zero":false},"axis":{"orient":"bottom","values":[0,0.366,0.577,1],"grid":true,"gridColor":"#b0b0b0","gridDash":[1,2],"labelExpr":"datum.value < 0.1 ? 'Γ' : datum.value < 0.4 ? 'M' : datum.value < 0.7 ? 'K' : 'Γ'","labelPadding":14,"labelFontSize":22,"title":null}},
   "y":{"field":"y","type":"quantitative","scale":{"domain":[0,1.18],"nice":false,"zero":false},"axis":{"orient":"left","values":[0,0.2,0.4,0.6,0.8,1],"format":".1~f","labelPadding":23,"title":"λˢ","titlePadding":9}},
   "detail":{"field":"s"},"color":{"field":"k","type":"nominal","scale":{"domain":["thin","dark","olive","dolive","slate","gray","blue","dblue","navy","dteal","teal","lteal","red","dred","bred"],"range":["#111111","#34341a","#6e6e00","#3a3a10","#3c3c80","#4d4d4d","#0a0aee","#22229e","#1c1c58","#0c4444","#006262","#138a8a","#a02424","#701010","#e01010"]},"legend":null}}},
  {"transform":[{"filter":"datum.k != 'thin'"}],"mark":{"type":"line","strokeWidth":5.5},
   "encoding":{"x":{"field":"x","type":"quantitative","axis":{"orient":"top","values":[0,0.366,0.577,1],"labels":false,"title":null}},
   "y":{"field":"y","type":"quantitative","axis":{"orient":"right","values":[0,0.2,0.4,0.6,0.8,1],"labels":false,"title":null}},
   "detail":{"field":"s"},"color":{"field":"k","type":"nominal","legend":null}}}
 ],"resolve":{"axis":{"x":"independent","y":"independent"}}},
{"width":234,"height":260,"transform":[{"filter":"datum.p == 'e'"}],
 "layer":[
  {"transform":[{"filter":"datum.k == 'thin'"}],"mark":{"type":"line","strokeWidth":1.1},
   "encoding":{"x":{"field":"x","type":"quantitative","scale":{"domain":[0,1],"nice":false,"zero":false},"axis":{"orient":"bottom","values":[0,0.366,0.577,1],"grid":true,"gridColor":"#b0b0b0","gridDash":[1,2],"labelExpr":"datum.value < 0.1 ? 'Γ' : datum.value < 0.4 ? 'M' : datum.value < 0.7 ? 'K' : 'Γ'","labelPadding":14,"labelFontSize":22,"title":null}},
   "y":{"field":"y","type":"quantitative","scale":{"domain":[0,1.18],"nice":false,"zero":false},"axis":{"orient":"left","values":[0,0.2,0.4,0.6,0.8,1],"labels":false,"title":null}},
   "detail":{"field":"s"},"color":{"field":"k","type":"nominal","scale":{"domain":["thin","dark","olive","dolive","slate","gray","blue","dblue","navy","dteal","teal","lteal","red","dred","bred"],"range":["#111111","#34341a","#6e6e00","#3a3a10","#3c3c80","#4d4d4d","#0a0aee","#22229e","#1c1c58","#0c4444","#006262","#138a8a","#a02424","#701010","#e01010"]},"legend":null}}},
  {"transform":[{"filter":"datum.k != 'thin'"}],"mark":{"type":"line","strokeWidth":5.5},
   "encoding":{"x":{"field":"x","type":"quantitative","axis":{"orient":"top","values":[0,0.366,0.577,1],"labels":false,"title":null}},
   "y":{"field":"y","type":"quantitative","axis":{"orient":"right","values":[0,0.2,0.4,0.6,0.8,1],"labels":false,"title":null}},
   "detail":{"field":"s"},"color":{"field":"k","type":"nominal","legend":null}}}
 ],"resolve":{"axis":{"x":"independent","y":"independent"}}},
{"width":234,"height":260,"transform":[{"filter":"datum.p == 'f'"}],
 "layer":[
  {"transform":[{"filter":"datum.k == 'thin'"}],"mark":{"type":"line","strokeWidth":1.1},
   "encoding":{"x":{"field":"x","type":"quantitative","scale":{"domain":[0,1],"nice":false,"zero":false},"axis":{"orient":"bottom","values":[0,0.366,0.577,1],"grid":true,"gridColor":"#b0b0b0","gridDash":[1,2],"labelExpr":"datum.value < 0.1 ? 'Γ' : datum.value < 0.4 ? 'M' : datum.value < 0.7 ? 'K' : 'Γ'","labelPadding":14,"labelFontSize":22,"title":null}},
   "y":{"field":"y","type":"quantitative","scale":{"domain":[0,1.18],"nice":false,"zero":false},"axis":{"orient":"left","values":[0,0.2,0.4,0.6,0.8,1],"labels":false,"title":null}},
   "detail":{"field":"s"},"color":{"field":"k","type":"nominal","scale":{"domain":["thin","dark","olive","dolive","slate","gray","blue","dblue","navy","dteal","teal","lteal","red","dred","bred"],"range":["#111111","#34341a","#6e6e00","#3a3a10","#3c3c80","#4d4d4d","#0a0aee","#22229e","#1c1c58","#0c4444","#006262","#138a8a","#a02424","#701010","#e01010"]},"legend":null}}},
  {"transform":[{"filter":"datum.k != 'thin'"}],"mark":{"type":"line","strokeWidth":5.5},
   "encoding":{"x":{"field":"x","type":"quantitative","axis":{"orient":"top","values":[0,0.366,0.577,1],"labels":false,"title":null}},
   "y":{"field":"y","type":"quantitative","axis":{"orient":"right","values":[0,0.2,0.4,0.6,0.8,1],"labels":false,"title":null}},
   "detail":{"field":"s"},"color":{"field":"k","type":"nominal","legend":null}}}
 ],"resolve":{"axis":{"x":"independent","y":"independent"}}}
]
}
